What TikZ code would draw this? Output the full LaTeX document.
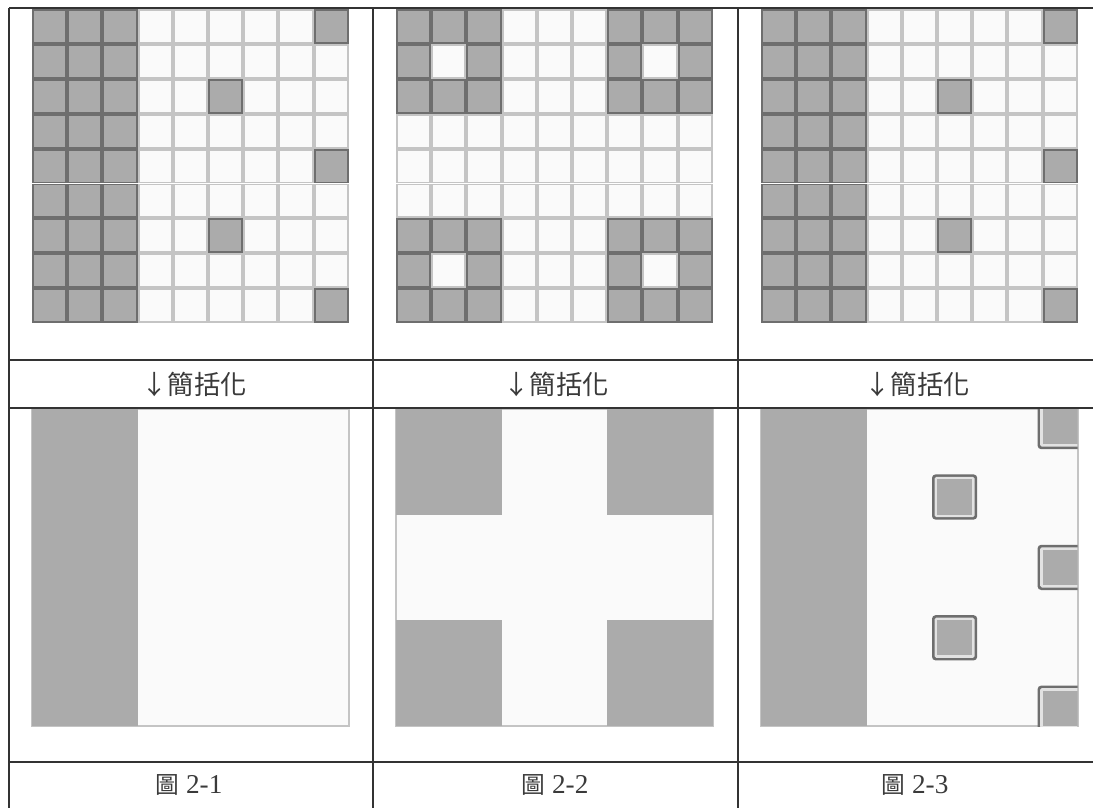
\documentclass[tikz,border=0pt]{standalone}
\usepackage{fontspec}
\setmainfont{Liberation Serif}
\newfontfamily\cjk{Noto Sans CJK TC}
\definecolor{cellgray}{HTML}{ABABAB}
\definecolor{celledge}{HTML}{6E6E6E}
\definecolor{paper}{HTML}{FAFAFA}
\definecolor{paperedge}{HTML}{C4C4C4}
\definecolor{ringlight}{HTML}{E2E2E2}
\definecolor{rulegray}{HTML}{333333}
\definecolor{inkgray}{HTML}{3A3A3A}
% one cell of a 9x9 grid
\newcommand{\pixcell}[3]{\draw[#3] ({(#1)*35.2+1},{(#2)*34.9+1}) rectangle ({((#1)+1)*35.2-1},{((#2)+1)*34.9-1});}
% framed cell of the simplified picture
\newcommand{\framedcell}[2]{%
  \fill[celledge, rounded corners=2] ({(#1)*35.2-5},{(#2)*35.2-5}) rectangle ({((#1)+1)*35.2+5},{((#2)+1)*35.2+5});
  \fill[ringlight, rounded corners=1] ({(#1)*35.2-2.5},{(#2)*35.2-2.5}) rectangle ({((#1)+1)*35.2+2.5},{((#2)+1)*35.2+2.5});
  \fill[cellgray] ({(#1)*35.2},{(#2)*35.2}) rectangle ({((#1)+1)*35.2},{((#2)+1)*35.2});}

\begin{document}
\begin{tikzpicture}[x=0.02cm, y=-0.02cm,
  lightcell/.style={fill=paper, draw=paperedge, line width=1.1pt},
  darkcell/.style={fill=cellgray, draw=celledge, line width=1.1pt},
  tablerule/.style={draw=rulegray, line width=0.8pt},
  simptext/.style={text=inkgray, font=\cjk\fontsize{15}{17}\selectfont},
  captiontext/.style={text=inkgray, font=\fontsize{15.5}{17}\selectfont}]

\useasboundingbox[fill=white] (0,0) rectangle (1093,808);

% Grid 1
\begin{scope}[shift={(32,9)}]
\foreach \i in {0,...,8} \foreach \j in {0,...,8} {\pixcell{\i}{\j}{lightcell}}
\foreach \i in {0,1,2} \foreach \j in {0,...,8} {\pixcell{\i}{\j}{darkcell}}
\foreach \i/\j in {8/0,8/4,8/8,5/2,5/6} {\pixcell{\i}{\j}{darkcell}}
\end{scope}

% Grid 2
\begin{scope}[shift={(396,9)}]
\foreach \i in {0,...,8} \foreach \j in {0,...,8} {\pixcell{\i}{\j}{lightcell}}
\foreach \bx in {0,6} \foreach \by in {0,6} {
  \foreach \i in {0,1,2} \foreach \j in {0,1,2} {\pixcell{\bx+\i}{\by+\j}{darkcell}}
  \pixcell{\bx+1}{\by+1}{lightcell}}
\end{scope}

% Grid 3
\begin{scope}[shift={(761,9)}]
\foreach \i in {0,...,8} \foreach \j in {0,...,8} {\pixcell{\i}{\j}{lightcell}}
\foreach \i in {0,1,2} \foreach \j in {0,...,8} {\pixcell{\i}{\j}{darkcell}}
\foreach \i/\j in {8/0,8/4,8/8,5/2,5/6} {\pixcell{\i}{\j}{darkcell}}
\end{scope}

% Simplified 1
\begin{scope}[shift={(32,409)}]
\draw[paperedge, fill=paper, line width=0.8pt] (0,0) rectangle (317,317);
\fill[cellgray] (0,0) rectangle (105.6,317);
\end{scope}

% Simplified 2
\begin{scope}[shift={(396,409)}]
\draw[paperedge, fill=paper, line width=0.8pt] (0,0) rectangle (317,317);
\foreach \bx in {0,211.4} \foreach \by in {0,211.4}
  \fill[cellgray] (\bx,\by) rectangle ++(105.6,105.6);
\end{scope}

% Simplified 3
\begin{scope}[shift={(761,409)}]
\draw[paperedge, fill=paper, line width=0.8pt] (0,0) rectangle (317,317);
\fill[cellgray] (0,0) rectangle (105.6,317);
\begin{scope}
\clip (0,0) rectangle (316.5,317);
\foreach \i/\j in {8/0,8/4,8/8,5/2,5/6} {\framedcell{\i}{\j}}
\end{scope}
\end{scope}

% Table
\foreach \x in {9,373,738} \draw[tablerule] (\x,8) -- (\x,808);
\foreach \y in {8,360,408,762} \draw[tablerule] (9,\y) -- (1093,\y);

% Labels
\node[simptext] (simp1) at (194,384) {↓簡括化};
\node[simptext] (simp2) at (556,384) {↓簡括化};
\node[simptext] (simp3) at (917,384) {↓簡括化};
\node[captiontext] (fig1) at (189,785) {{\cjk\fontsize{13.5}{15}\selectfont 圖} 2-1};
\node[captiontext] (fig2) at (555,785) {{\cjk\fontsize{13.5}{15}\selectfont 圖} 2-2};
\node[captiontext] (fig3) at (915,785) {{\cjk\fontsize{13.5}{15}\selectfont 圖} 2-3};
\end{tikzpicture}
\end{document}
